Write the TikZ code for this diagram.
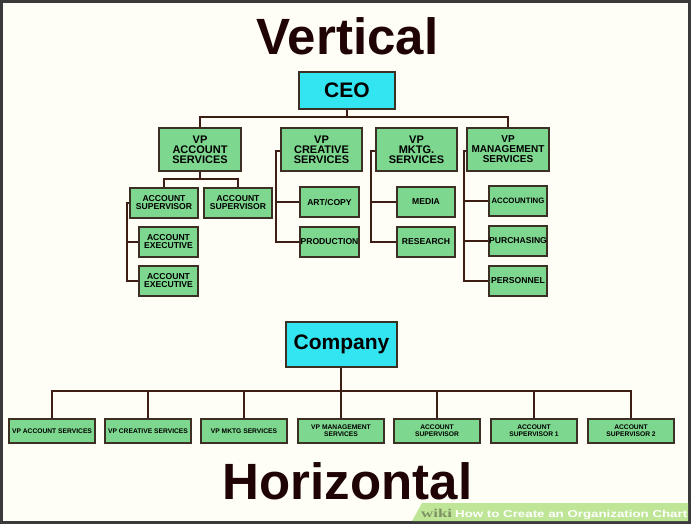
\documentclass[tikz,border=0pt]{standalone}
\usepackage{fontspec}
\setmainfont{Liberation Sans}
\newfontfamily\bannerfont[FakeStretch=1.33]{Liberation Sans}
\newfontfamily\wikifont[FakeStretch=1.4]{Liberation Serif}
\definecolor{framec}{RGB}{58,58,58}
\definecolor{bgc}{RGB}{254,254,246}
\definecolor{boxg}{RGB}{126,215,142}
\definecolor{cyanc}{RGB}{51,229,240}
\definecolor{edgec}{RGB}{60,48,36}
\definecolor{wirec}{RGB}{62,30,20}
\definecolor{titlec}{RGB}{32,4,4}
\definecolor{bannerc}{RGB}{190,230,150}
\definecolor{wikic}{RGB}{125,145,100}
\begin{document}
\begin{tikzpicture}[x=1pt,y=-1pt,
  box/.style={draw=edgec, fill=boxg, line width=1.5pt, inner sep=0pt, align=center, text=black},
  vpbox/.style={box, minimum width=81pt, minimum height=43pt, font=\bfseries\fontsize{11}{10}\selectfont},
  smbox/.style={box, minimum width=59pt, minimum height=30pt, font=\bfseries\fontsize{8.6}{8}\selectfont},
  hbox/.style={box, minimum width=86pt, minimum height=24pt, font=\bfseries\fontsize{6.7}{7}\selectfont},
  topbox/.style={box, fill=cyanc, font=\bfseries\fontsize{21}{21}\selectfont},
  wire/.style={draw=wirec, line width=1.8pt},
  title/.style={anchor=base, inner sep=0pt, text=titlec, font=\bfseries\fontsize{51}{51}\selectfont}]
\useasboundingbox (0,0) rectangle (691,524);
\fill[framec] (0,0) rectangle (691,524);
\fill[bgc] (3,3) rectangle (688,521);

% titles
\node[title] (tv) at (347.5,55) {Vertical};
\node[title] (th) at (347.5,499) {Horizontal};

% vertical chart
\node[topbox, minimum width=96pt, minimum height=37pt] (ceo) at (347,90.5) {CEO};
\node[vpbox, minimum width=82pt] (vpa) at (200,149.5) {VP\\ACCOUNT\\SERVICES};
\node[vpbox] (vpc) at (321.5,149.5) {VP\\CREATIVE\\SERVICES};
\node[vpbox] (vpk) at (416.5,149.5) {VP\\MKTG.\\SERVICES};
\node[vpbox, minimum width=82pt, font=\bfseries\fontsize{10}{10}\selectfont] (vpm) at (508,149.5) {VP\\MANAGEMENT\\SERVICES};

\node[smbox, minimum width=68pt] (as1) at (164,203) {ACCOUNT\\SUPERVISOR};
\node[smbox, minimum width=68pt] (as2) at (238,203) {ACCOUNT\\SUPERVISOR};
\node[smbox] (ae1) at (168.5,242) {ACCOUNT\\EXECUTIVE};
\node[smbox] (ae2) at (168.5,281) {ACCOUNT\\EXECUTIVE};
\node[smbox] (art) at (329.5,202) {ART/COPY};
\node[smbox] (prod) at (329.5,242) {PRODUCTION};
\node[smbox, minimum width=58pt] (med) at (426,202) {MEDIA};
\node[smbox, minimum width=58pt] (res) at (426,242) {RESEARCH};
\node[smbox, minimum width=58pt, font=\bfseries\fontsize{7.8}{8}\selectfont] (acc) at (518,201) {ACCOUNTING};
\node[smbox, minimum width=58pt] (pur) at (518,241) {PURCHASING};
\node[smbox, minimum width=58pt] (per) at (518,281) {PERSONNEL};

\coordinate (vbar) at (347,117);
\draw[wire] (ceo.south) -- (vbar);
\draw[wire] (vpa.north) |- (vbar) -| (vpm.north);
\coordinate (abar) at (200,179);
\draw[wire] (vpa.south) -- (abar);
\draw[wire] (as1.north) |- (abar) -| (as2.north);
\coordinate (spa) at (127,203);
\draw[wire] (as1.west) -- (spa) |- (ae2.west);
\draw[wire] (ae1.west) -- (ae1.west -| spa);
\coordinate (spc) at (276,151);
\draw[wire] (vpc.west |- spc) -- (spc) |- (prod.west);
\draw[wire] (art.west) -- (art.west -| spc);
\coordinate (spk) at (371,151);
\draw[wire] (vpk.west |- spk) -- (spk) |- (res.west);
\draw[wire] (med.west) -- (med.west -| spk);
\coordinate (spm) at (464,151);
\draw[wire] (vpm.west |- spm) -- (spm) |- (per.west);
\draw[wire] (acc.west) -- (acc.west -| spm);
\draw[wire] (pur.west) -- (pur.west -| spm);

% horizontal chart
\node[topbox, minimum width=111pt, minimum height=45pt] (co) at (341.5,344.5) {Company};
\node[hbox] (h1) at (52,431) {VP ACCOUNT SERVICES};
\node[hbox] (h2) at (148,431) {VP CREATIVE SERVICES};
\node[hbox] (h3) at (244,431) {VP MKTG SERVICES};
\node[hbox] (h4) at (341,431) {VP MANAGEMENT\\SERVICES};
\node[hbox] (h5) at (437,431) {ACCOUNT\\SUPERVISOR};
\node[hbox] (h6) at (534,431) {ACCOUNT\\SUPERVISOR 1};
\node[hbox] (h7) at (631,431) {ACCOUNT\\SUPERVISOR 2};
\coordinate (hbar) at (341,391);
\draw[wire] (co.south -| hbar) -- (hbar);
\draw[wire] (h1.north) |- (hbar) -| (h7.north);
\foreach \n in {h2,h3,h4,h5,h6}
  \draw[wire] (\n.north) -- (\n.north |- hbar);

% banner
\fill[bannerc] (422,503) -- (688,503) -- (688,521) -- (412,521) -- cycle;
\node[anchor=base west, inner sep=0pt, text=wikic, font=\wikifont\bfseries\fontsize{12}{12}\selectfont] (wk) at (421,517) {wiki};
\node[anchor=base west, inner sep=0pt, text=white, font=\bannerfont\bfseries\fontsize{10}{10}\selectfont] (bt) at (455,517) {How to Create an Organization Chart};
\end{tikzpicture}
\end{document}
